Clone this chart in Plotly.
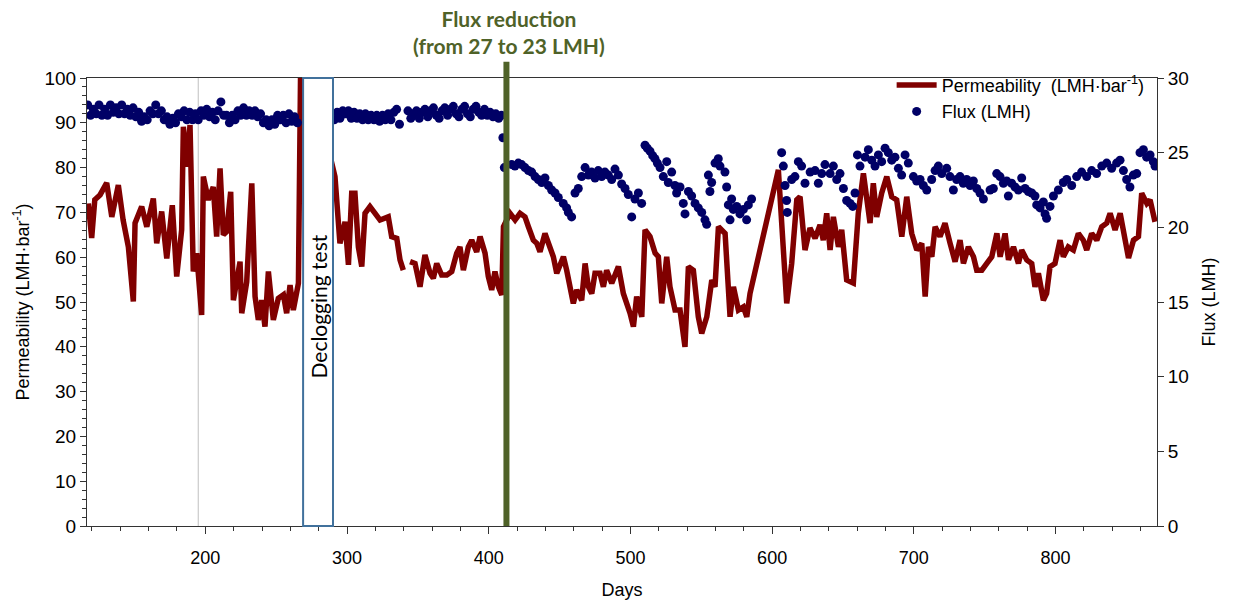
import plotly.graph_objects as go

# Permeability (LMH·bar^-1), None marks the gap in the record
perm_days = [117.4, 119.8, 122.0, 125.7, 130.4, 134.0, 138.6, 142.0, 145.7, 149.2, 150.4, 155.1, 158.7,
             163.3, 165.7, 169.2, 172.8, 176.7, 179.8, 183.3, 184.5, 186.9, 189.2, 191.5, 193.9, 197.4,
             198.6, 202.1, 205.6, 208.0, 210.4, 212.7, 215.0, 217.9, 219.8, 224.5, 225.7, 229.2, 232.8,
             235.1, 237.4, 239.8, 242.1, 244.5, 248.0, 251.5, 255.1, 257.4, 259.8, 262.1, 265.7, 267.5,
             291.5, 292.7, 295.0, 298.6, 301.0, 303.3, 305.6, 308.0, 310.4, 312.7, 316.2, 319.8, 323.3,
             329.1, 331.5, 335.1, 337.4, 339.7, 342.0,
             344.5, 348.0, 351.5, 355.0, 358.6, 360.9, 363.3, 366.8, 370.4, 373.9, 377.4, 379.7, 382.1,
             385.6, 388.0, 391.5, 393.9, 397.4, 399.7, 402.1, 404.4, 406.8, 409.2, 410.4, 415.0, 418.6,
             422.1, 425.6, 428.0, 431.5, 433.9, 436.2, 439.7, 442.1, 445.6, 448.0, 452.7, 455.0, 459.7,
             462.1, 465.6, 468.0, 470.3, 472.7, 475.0, 478.5, 480.9, 483.2, 486.8, 491.5, 495.0, 499.7,
             502.1, 504.4, 508.0, 510.3, 513.8, 517.4, 519.7, 522.1, 525.6, 527.9, 531.5, 535.0, 538.5,
             540.9, 544.4, 547.9, 550.3, 553.9, 557.4, 559.7, 562.1, 566.8, 570.3, 572.7, 576.2, 579.7,
             582.1, 584.4, 604.4, 610.3, 613.8, 617.4, 619.7, 623.2, 626.7, 630.3, 633.8, 636.1, 638.5,
             640.9, 643.2, 646.8, 649.1, 652.6, 657.3, 660.8, 664.4, 669.1, 671.4, 673.8, 677.3, 680.9,
             684.4, 687.9, 691.5, 695.0, 698.5, 702.1, 705.6, 708.0, 710.3, 712.7, 715.0, 718.5, 722.0,
             725.6, 729.1, 732.6, 735.0, 738.5, 742.1, 744.4, 748.0, 751.5, 755.0, 758.6, 760.9, 764.4,
             766.8, 770.3, 773.8, 776.1, 779.7, 783.2, 785.5, 787.9, 791.4, 793.7, 796.1, 799.6, 803.2,
             805.5, 809.0, 812.6, 816.1, 819.6, 822.0, 825.5, 829.1, 832.6, 836.1, 838.5, 842.0, 845.6,
             849.1, 851.5, 855.0, 858.5, 860.8, 864.4, 866.7, 870.2]
perm_vals = [72.0, 64.3, 72.8, 73.9, 76.6, 69.0, 76.1, 68.3, 62.3, 50.1, 67.6, 71.3, 66.8,
             73.1, 63.1, 70.2, 59.7, 71.6, 55.7, 66.1, 89.1, 80.2, 89.5, 56.8, 60.9, 47.1,
             78.0, 72.8, 75.7, 64.6, 79.8, 65.0, 65.7, 74.6, 50.4, 59.0, 47.5, 54.5, 76.5,
             51.2, 46.0, 50.4, 44.5, 56.8, 46.0, 50.8, 51.6, 47.5, 53.8, 48.2, 54.2, 110.0,
             78.0, 73.9, 63.1, 67.9, 58.3, 74.3, 74.3, 62.3, 57.9, 69.8, 71.3, 69.8, 68.3,
             69.0, 64.6, 64.2, 59.4, 57.1, None,
             59.0, 58.6, 53.4, 60.5, 56.4, 55.3, 58.6, 56.0, 56.0, 56.8, 60.9, 62.3, 57.1,
             62.3, 63.8, 61.2, 64.6, 60.9, 55.7, 52.7, 56.8, 53.4, 51.6, 66.8, 69.8, 68.3,
             69.8, 69.0, 66.8, 63.8, 63.1, 61.2, 65.3, 63.1, 60.1, 56.4, 60.1, 57.1, 49.7,
             52.7, 50.4, 58.6, 53.4, 51.9, 56.4, 56.4, 53.4, 57.1, 54.2, 57.9, 51.9, 47.5,
             44.5, 51.2, 46.7, 66.1, 64.6, 60.9, 60.1, 49.7, 60.1, 53.4, 48.2, 48.2, 40.0,
             57.9, 57.1, 46.7, 43.0, 46.7, 54.9, 53.4, 66.8, 65.3, 46.7, 53.4, 48.2, 48.9,
             46.7, 51.9, 79.5, 49.7, 58.6, 72.8, 73.5, 61.6, 66.5, 64.2, 67.2, 63.8, 69.8,
             61.6, 69.0, 62.3, 66.1, 54.9, 54.2, 69.8, 78.7, 67.6, 76.5, 69.0, 74.3, 78.0,
             73.5, 72.8, 64.6, 73.5, 65.3, 61.6, 63.1, 51.2, 62.3, 60.1, 66.8, 64.6, 67.6,
             63.1, 59.0, 63.8, 58.6, 62.3, 60.1, 57.1, 57.1, 58.6, 60.1, 65.3, 60.1, 65.3,
             59.4, 62.3, 58.6, 61.6, 59.4, 58.6, 53.4, 56.4, 50.4, 51.9, 57.9, 58.6, 63.8,
             60.1, 62.3, 61.6, 65.3, 63.8, 61.6, 65.3, 63.8, 66.8, 67.6, 69.8, 66.1, 69.8,
             63.1, 59.8, 63.8, 64.6, 74.3, 72.0, 72.8, 67.9]

# Flux (LMH)
flux_days = [117, 119, 121, 123, 125, 127, 129, 131, 133, 135, 137, 139, 141, 143, 145, 147, 149, 151,
             153, 155, 157, 159, 161, 163, 165, 167, 169, 171, 173, 175, 177, 179, 181, 183, 185, 187,
             189, 191, 193, 195, 197, 199, 201, 203, 205, 207, 209, 211, 213, 215, 217, 219, 221, 223,
             225, 227, 229, 231, 233, 235, 237, 239, 241, 243, 245, 247, 249, 251, 253, 255, 257, 259,
             261, 263, 265,
             291, 293, 295, 297, 299, 301, 303, 305, 307, 309, 311, 313, 315, 317, 319, 321, 323, 325,
             327, 329, 331, 333, 335, 337,
             343, 345, 347, 349, 351, 353, 355, 357, 359, 361, 363, 365, 367, 369, 371, 373, 375, 377,
             379, 381, 383, 385, 387, 389, 391, 393, 395, 397, 399, 401, 403, 405, 407, 409, 410, 411,
             416.2, 418.5, 420.9, 423.2, 425.6, 428.0, 430.3, 432.7, 435.0, 437.4, 439.7, 442.1, 444.4,
             446.8, 449.1, 452.6, 455.0, 456.2, 458.5, 460.9, 463.2, 465.6, 468.0, 470.3, 472.6, 475.0,
             477.3, 479.7, 482.0, 484.4, 486.8, 489.1, 491.5, 493.8, 496.2, 498.5, 500.9, 503.2, 505.6,
             507.9, 510.3, 511.9, 513.8, 515.7, 517.3, 519.0, 520.9, 523.2, 525.6, 526.7, 529.1, 531.4,
             532.6, 535.0, 537.3, 538.5, 540.9, 543.2, 545.6, 547.9, 550.3, 552.6, 553.8, 555.0, 556.1,
             557.3, 559.7, 562.0, 563.2, 566.7, 567.9, 569.1, 570.3, 571.4, 572.6, 575.0, 577.3, 579.7,
             582.0, 583.2, 585.5, 606.7, 607.9, 609.1, 610.2, 610.7, 613.8, 616.1, 618.5, 620.8, 623.2,
             626.8, 630.3, 632.6, 635.0, 637.3, 640.9, 643.2, 645.6, 647.9, 650.3, 652.6, 655.0, 656.9,
             658.5, 660.2, 662.0, 665.6, 667.9, 670.3, 672.6, 675.0, 677.3, 679.7, 682.0, 684.4, 686.7,
             689.1, 691.4, 693.8, 696.1, 699.7, 702.0, 704.4, 706.7, 709.1, 712.6, 715.0, 717.3, 719.7,
             723.2, 725.5, 727.9, 730.2, 732.6, 734.9, 737.3, 739.7, 742.0, 744.4, 746.7, 749.1, 753.8,
             756.1, 758.5, 760.8, 763.2, 765.5, 766.7, 769.0, 771.4, 773.8, 776.1, 778.5, 780.8, 783.2,
             785.5, 786.7, 789.1, 791.4, 792.6, 793.7, 796.1, 798.5, 802.0, 805.5, 807.9, 811.4, 814.9,
             818.4, 822.0, 825.5, 829.0, 832.6, 836.1, 839.6, 843.1, 845.5, 847.9, 850.2, 852.5, 854.9,
             857.3, 859.6, 862.0, 864.3, 866.7, 869.0, 870.2]
flux_vals = [28.2, 27.5, 27.9, 27.6, 28.2, 27.5, 27.9, 27.5, 28.2, 27.7, 28.0, 27.6, 28.2, 27.6, 27.9, 27.5, 28.0, 27.4,
             27.7, 27.1, 27.4, 27.2, 27.8, 27.6, 28.2, 27.6, 27.8, 27.2, 27.4, 26.9, 27.3, 27.0, 27.6, 27.4, 27.8, 27.2,
             27.7, 27.2, 27.6, 27.2, 27.8, 27.5, 27.9, 27.4, 27.7, 27.2, 27.8, 28.4, 27.5, 27.5, 27.0, 27.5, 27.2, 27.8,
             27.5, 28.0, 27.5, 27.8, 27.5, 27.8, 27.4, 27.6, 27.0, 27.2, 26.8, 27.2, 26.9, 27.5, 27.2, 27.5, 27.0, 27.6,
             27.1, 27.4, 27.0,
             27.2, 27.7, 27.3, 27.8, 27.6, 27.8, 27.3, 27.7, 27.3, 27.6, 27.2, 27.6, 27.2, 27.5, 27.2, 27.5, 27.1, 27.5,
             27.2, 27.6, 27.2, 27.7, 27.9, 26.9,
             27.8, 27.3, 27.6, 27.8, 27.3, 27.7, 27.9, 27.4, 27.8, 28.0, 27.5, 27.3, 27.8, 28.0, 27.5, 27.9, 28.1, 27.6,
             27.4, 27.9, 28.1, 27.6, 27.4, 27.9, 28.1, 27.7, 27.5, 27.9, 27.5, 27.7, 27.4, 27.6, 27.3, 27.5, 26.0, 24.0,
             24.2, 24.1, 24.3, 24.2, 24.0, 23.8, 23.7, 23.4, 23.2, 23.0, 23.3, 22.8, 22.5,
             22.3, 22.0, 21.6, 21.3, 21.0, 20.7, 22.3, 22.6, 23.4, 24.0, 23.5, 23.7, 23.3,
             23.8, 23.4, 23.7, 23.5, 23.2, 23.9, 23.5, 22.9, 22.6, 22.2, 20.7, 21.9, 22.3,
             21.6, 25.5, 25.3, 25.1, 24.8, 24.6, 24.3, 24.0, 23.4, 24.4, 23.0, 23.7, 22.8,
             22.3, 22.7, 21.6, 20.9, 22.4, 22.1, 21.6, 21.3, 21.0, 20.5, 20.2, 23.5, 22.4,
             23.0, 24.3, 24.6, 24.1, 23.7, 22.7, 21.5, 20.5, 21.9, 21.2, 21.4, 20.9, 21.2,
             20.5, 21.5, 21.9, 25.0, 24.1, 22.8, 21.8, 21.0, 23.2, 23.4, 24.4, 24.1, 22.95,
             23.7, 23.8, 22.95, 23.6, 24.2, 23.6, 24.1, 23.2, 23.6, 22.6, 21.8, 21.6, 21.4,
             22.3, 24.85, 24.1, 24.7, 25.2, 24.5, 24.1, 24.85, 24.4, 25.3, 25.0, 24.5, 24.7,
             23.95, 23.5, 24.85, 24.3, 23.4, 23.1, 23.2, 22.8, 22.5, 23.2, 23.8, 24.1, 23.6,
             23.95, 23.4, 22.5, 23.2, 23.4, 22.95, 23.2, 22.8, 23.1, 22.6, 22.3, 21.9, 22.5,
             22.6, 23.6, 23.4, 22.95, 23.1, 22.1, 22.95, 22.7, 22.5, 23.3, 22.6, 22.4, 22.3,
             22.1, 21.5, 21.3, 21.7, 20.9, 20.6, 21.4, 22.1, 22.5, 23.0, 23.2, 22.8, 23.4,
             23.7, 23.4, 23.8, 23.6, 24.1, 24.3, 23.95, 24.3, 24.5, 23.8, 23.2, 22.7, 23.5,
             23.6, 25.0, 25.2, 24.7, 24.85, 24.4, 24.1]

x_ticks = [200, 300, 400, 500, 600, 700, 800]
declog_start, declog_end = 269.0, 290.1
flux_change_day = 412.5
ref_line_day = 195.0

RED = "#800000"
NAVY = "#000066"
GREEN = "#4F6228"
BOX = "#41719C"
AX = "#333333"
FONT = "Arial, Liberation Sans, sans-serif"
LABEL_FONT = "Lato, Open Sans, sans-serif"

fig = go.Figure()
fig.add_trace(go.Scatter(
    x=perm_days, y=perm_vals, mode="lines", name="Permeability  (LMH·bar<sup>-1</sup>)",
    line=dict(color=RED, width=5.5), connectgaps=False, yaxis="y"))
fig.add_trace(go.Scatter(
    x=flux_days, y=flux_vals, mode="markers", name="Flux (LMH)",
    marker=dict(color=NAVY, size=9), yaxis="y2"))

shapes = [
    dict(type="line", xref="x", yref="paper", x0=ref_line_day, x1=ref_line_day, y0=0, y1=1,
         line=dict(color="#BFBFBF", width=1), layer="below"),
    dict(type="rect", xref="x", yref="paper", x0=declog_start, x1=declog_end, y0=0, y1=1,
         fillcolor="white", line=dict(color=BOX, width=2), layer="above"),
    dict(type="line", xref="x", yref="paper", x0=flux_change_day, x1=flux_change_day, y0=0, y1=1.036,
         line=dict(color=GREEN, width=6), layer="above"),
]

annotations = [
    dict(text="<b>Flux reduction<br>(from 27 to 23 LMH)</b>", xref="x", yref="paper",
         x=flux_change_day + 2, y=1.103, showarrow=False, xanchor="center", yanchor="middle",
         font=dict(family=LABEL_FONT, size=21, color=GREEN)),
    dict(text="Declogging test", xref="x", yref="paper", x=(declog_start + declog_end) / 2,
         y=0.49, textangle=-90, showarrow=False, xanchor="center", yanchor="middle",
         font=dict(family=LABEL_FONT, size=21, color="black")),
]

fig.update_layout(
    width=1236, height=600,
    margin=dict(l=87, r=79, t=78, b=74),
    paper_bgcolor="white", plot_bgcolor="white",
    font=dict(family=FONT, size=17, color="black"),
    showlegend=True,
    legend=dict(x=0.752, y=1.025, xanchor="left", yanchor="top", bgcolor="rgba(0,0,0,0)",
                font=dict(family=FONT, size=18), tracegroupgap=0, itemwidth=40),
    xaxis=dict(range=[116.5, 871.6], tickvals=x_ticks, ticks="outside", ticklen=7,
               tickcolor=AX, showline=True, linecolor=AX, linewidth=1, mirror=True,
               showgrid=False, zeroline=False, ticklabelstandoff=8, automargin=False,
               minor=dict(dtick=20, tick0=0, ticks="outside", ticklen=4, tickcolor=AX),
               tickfont=dict(size=18), title=dict(text="Days", font=dict(size=18), standoff=26)),
    yaxis=dict(range=[0, 100], dtick=10, ticks="outside", ticklen=6, tickcolor=AX,
               showline=True, linecolor=AX, linewidth=1, showgrid=False, zeroline=False,
               automargin=False,
               minor=dict(dtick=2, ticks="outside", ticklen=4, tickcolor=AX),
               tickfont=dict(size=19),
               title=dict(text="Permeability (LMH·bar<sup>-1</sup>)", font=dict(size=18), standoff=10)),
    yaxis2=dict(range=[0, 30], dtick=5, ticks="outside", ticklen=6, tickcolor=AX,
                overlaying="y", side="right", showline=True, linecolor=AX, linewidth=1,
                showgrid=False, zeroline=False, tickfont=dict(size=19), automargin=False,
                title=dict(text="Flux (LMH)", font=dict(size=18), standoff=14)),
    shapes=shapes,
    annotations=annotations,
)

fig.write_html("out.html")
